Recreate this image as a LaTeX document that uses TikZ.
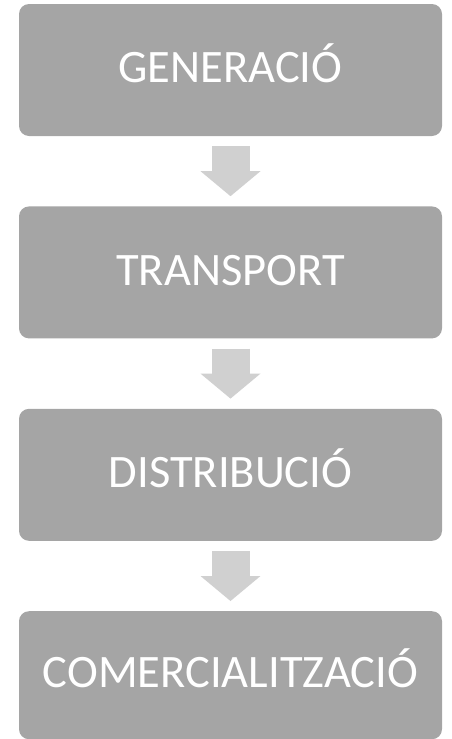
\documentclass[tikz,border=0pt]{standalone}
\usepackage{fontspec}
\setmainfont{Carlito}
\usetikzlibrary{positioning}
\usetikzlibrary{arrows.meta}

\definecolor{boxgray}{HTML}{A5A5A5}
\definecolor{arrowgray}{HTML}{D0D0D0}

\begin{document}
\begin{tikzpicture}[x=1pt,y=1pt,
	stage/.style={rectangle, rounded corners=10pt, fill=boxgray, text=white,
		minimum width=423pt, minimum height=132pt, inner sep=0pt,
		text height=28.5pt, text depth=3pt,
		font=\fontsize{46.5}{54}\selectfont},
	flow/.style={draw=arrowgray, line width=38pt, shorten <=10pt, shorten >=10pt,
		-{Triangle[width=60pt,length=25pt,line width=0pt]}}]
	\useasboundingbox (0,0) rectangle (452,-739);
	%% etapes
	\node[stage] (gen) at (230.5,-70) {GENERACIÓ};
	\node[stage, below = 70pt of gen] (tra) {TRANSPORT};
	\node[stage, below = 70pt of tra] (dis) {DISTRIBUCIÓ};
	\node[stage, below = 70pt of dis, minimum height=128pt] (com) {COMERCIALITZACIÓ};
	% fletxes entre etapes
	\draw[flow] (gen) -- (tra);
	\draw[flow] (tra) -- (dis);
	\draw[flow] (dis) -- (com);
\end{tikzpicture}
\end{document}
